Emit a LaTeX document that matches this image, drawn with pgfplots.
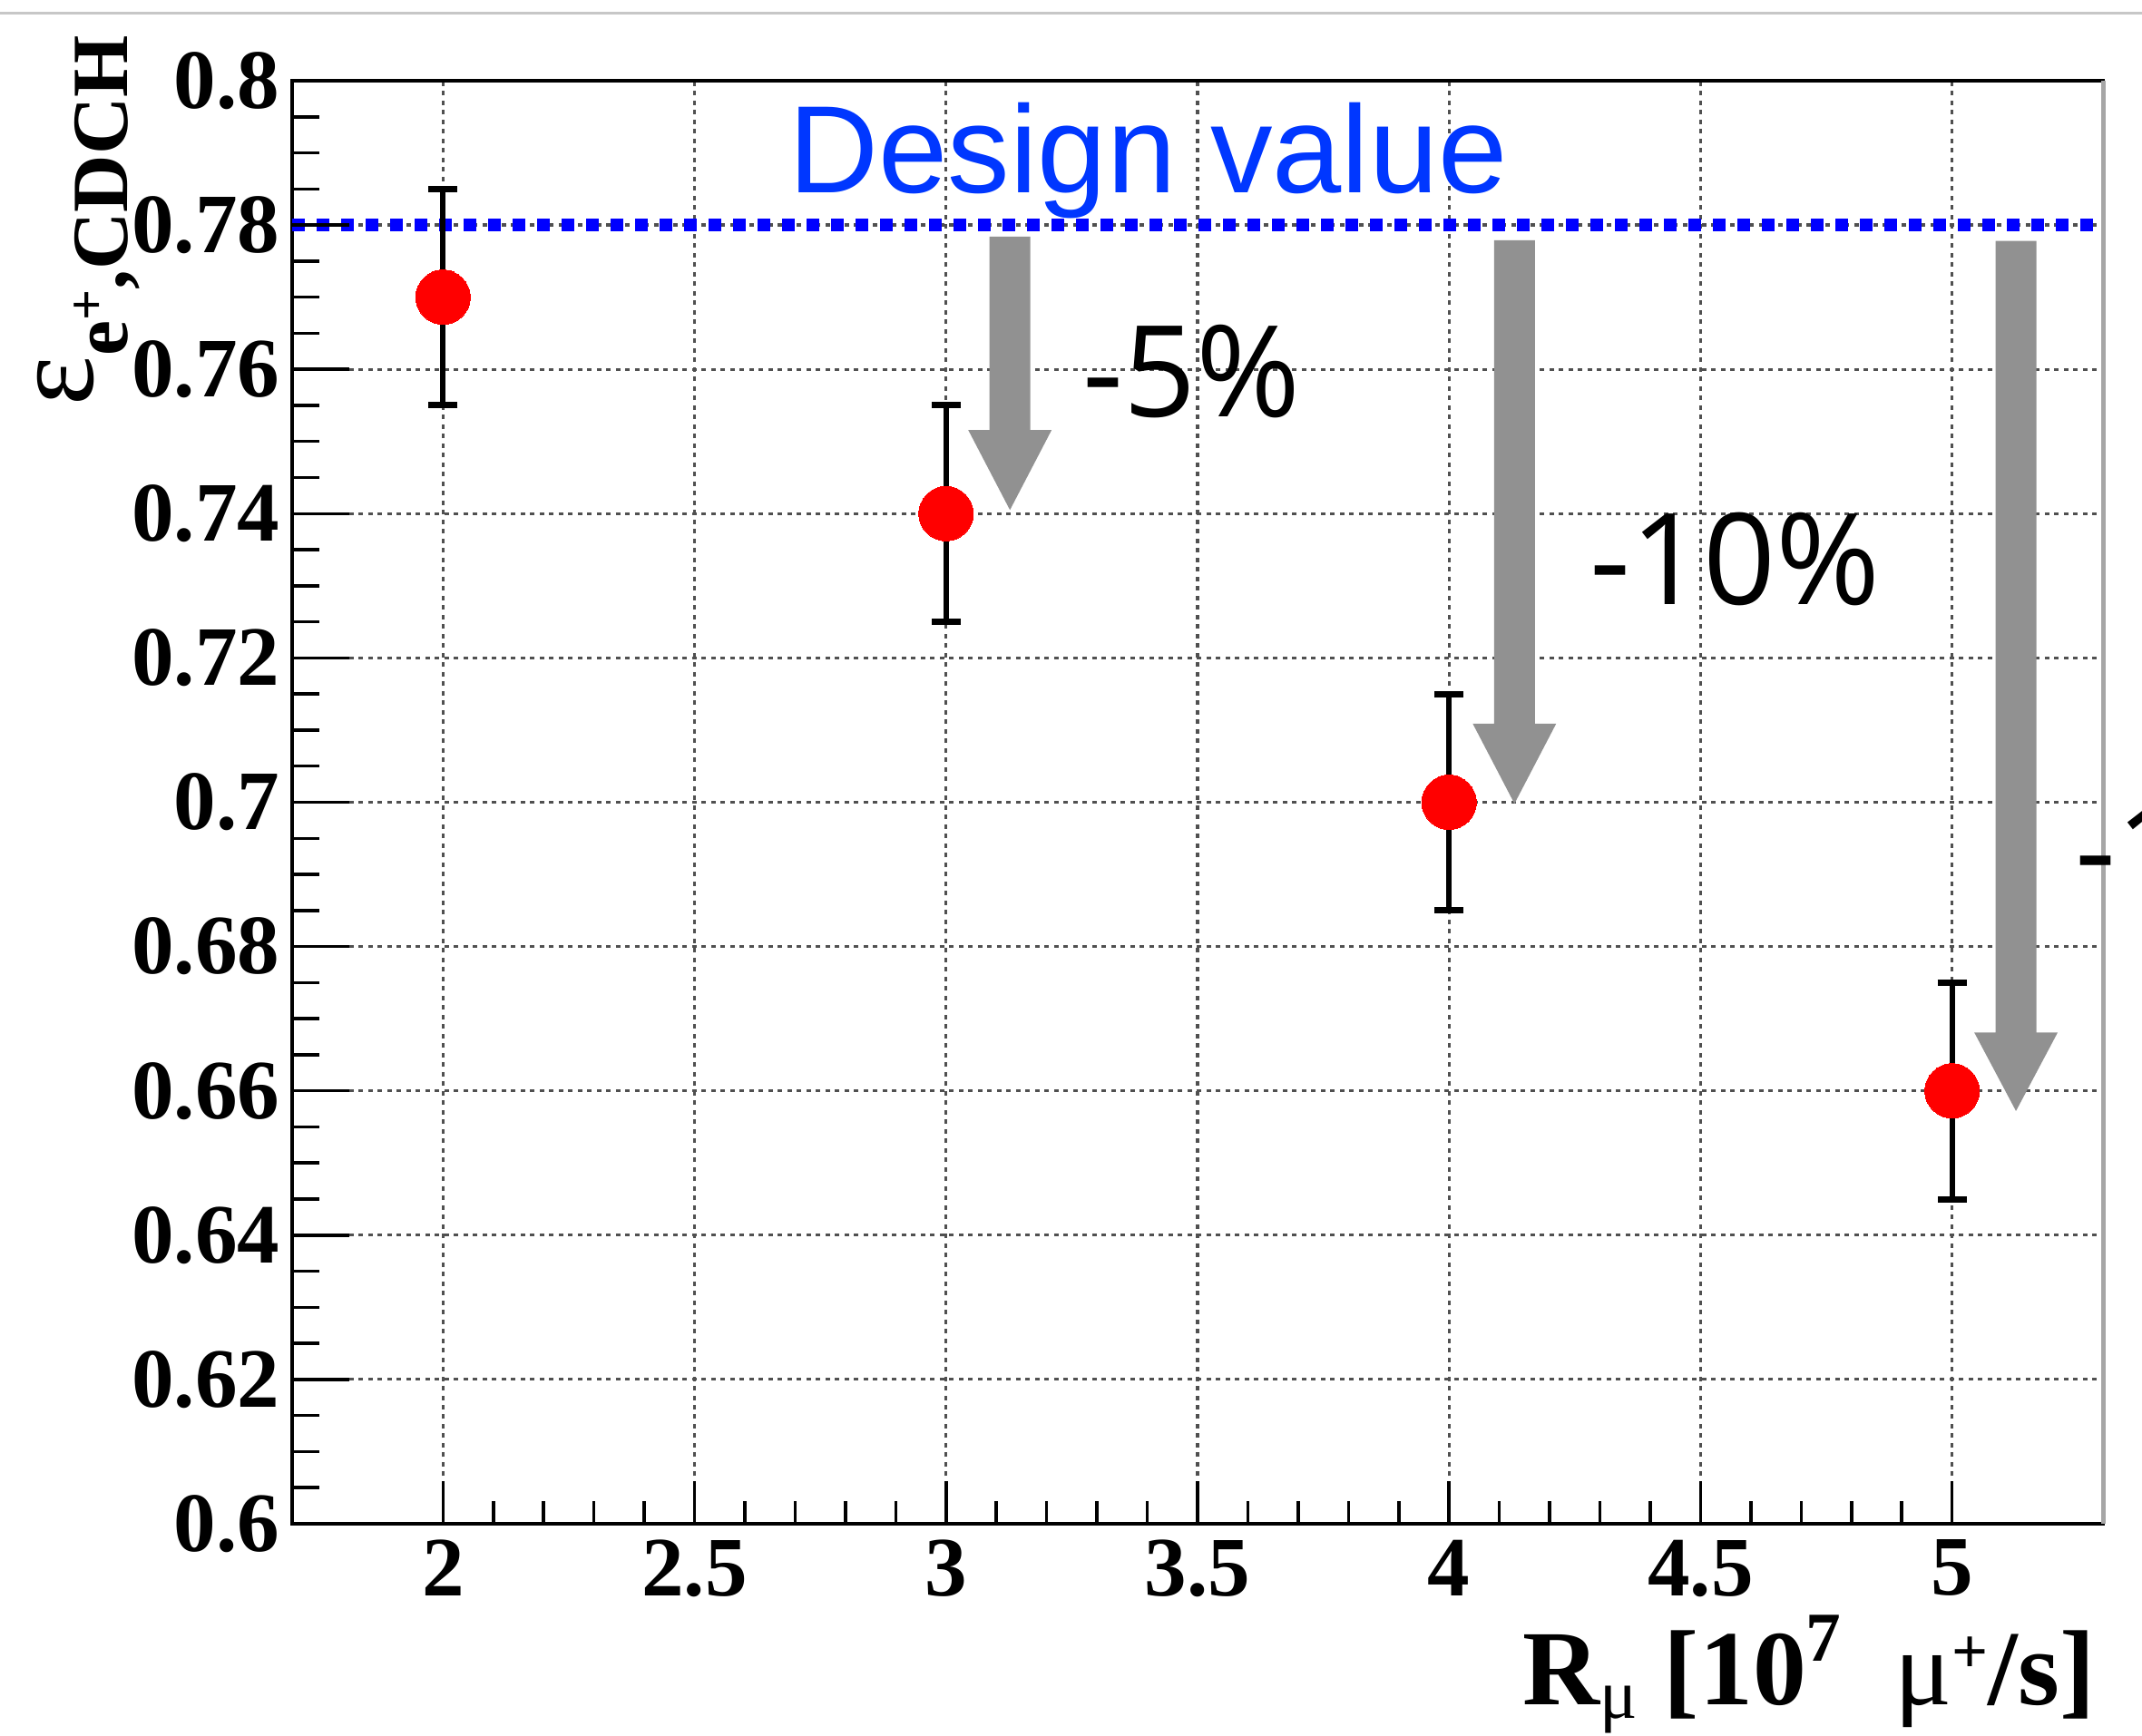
\documentclass[border=0pt]{standalone}
\usepackage{fontspec}
\setmainfont{Liberation Serif}
\newfontfamily\helv{Liberation Sans}
\newfontfamily\opensans{Open Sans}
\usepackage{pgfplots}
\pgfplotsset{compat=1.18}
\definecolor{designblue}{RGB}{0,55,255}
\definecolor{dotblue}{RGB}{0,0,255}
\definecolor{arrowgray}{RGB}{145,145,145}
\definecolor{gridgray}{RGB}{80,80,80}

\begin{document}
\begin{tikzpicture}
\useasboundingbox (0,0) rectangle (23.61cm,19.14cm);
\clip (0,0) rectangle (23.61cm,19.14cm);
% thin separator line at the top of the page
\draw[line width=0.03cm, color=black!22] (0,18.995cm) -- (23.61cm,18.995cm);

\begin{axis}[
  at={(3.22cm,2.34cm)}, anchor=south west,
  scale only axis, width=19.96cm, height=15.91cm,
  xmin=1.7, xmax=5.3, ymin=0.6, ymax=0.8,
  xtick={2,2.5,3,3.5,4,4.5,5},
  xticklabels={2,2.5,3,3.5,4,4.5,5},
  minor x tick num=4,
  ytick={0.6,0.62,0.64,0.66,0.68,0.7,0.72,0.74,0.76,0.78,0.8},
  yticklabels={0.6,0.62,0.64,0.66,0.68,0.7,0.72,0.74,0.76,0.78,0.8},
  tick pos=left,
  major tick length=0.47cm, minor tick length=0.25cm,
  tick style={black, line width=0.035cm},
  ytick style={draw=none},
  grid=major,
  major grid style={gridgray, line width=0.032cm, dash pattern=on 0.05cm off 0.055cm},
  axis line style={line width=0.045cm},
  ticklabel style={font=\fontsize{26.5}{30}\selectfont\bfseries, inner sep=0pt},
  xticklabel style={anchor=north, yshift=-0.17cm},
  yticklabel style={anchor=east, xshift=-0.13cm},
  /pgf/number format/assume math mode=true,
]
% design value
\addplot[dotblue, line width=0.14cm, dash pattern=on 0.14cm off 0.13cm]
  coordinates {(1.7,0.78) (5.3,0.78)};

% drops with respect to the design value
\fill[arrowgray] (axis cs:3.0864,0.7784) -- (axis cs:3.1676,0.7784) -- (axis cs:3.1676,0.7516)
  -- (axis cs:3.210,0.7516) -- (axis cs:3.127,0.7405) -- (axis cs:3.044,0.7516)
  -- (axis cs:3.0864,0.7516) -- cycle;
\fill[arrowgray] (axis cs:4.0894,0.7779) -- (axis cs:4.1706,0.7779) -- (axis cs:4.1706,0.7109)
  -- (axis cs:4.213,0.7109) -- (axis cs:4.130,0.6998) -- (axis cs:4.047,0.7109)
  -- (axis cs:4.0894,0.7109) -- cycle;
\fill[arrowgray] (axis cs:5.0864,0.7778) -- (axis cs:5.1676,0.7778) -- (axis cs:5.1676,0.6681)
  -- (axis cs:5.210,0.6681) -- (axis cs:5.127,0.6572) -- (axis cs:5.044,0.6681)
  -- (axis cs:5.0864,0.6681) -- cycle;

% measured efficiency
\addplot[only marks, mark=*, mark size=0.3cm,
  mark options={fill=red, draw=red, line width=0pt},
  error bars/.cd, y dir=both, y explicit,
  error bar style={line width=0.06cm, black},
  error mark options={rotate=90, mark size=0.16cm, line width=0.07cm, black}]
  coordinates {
  (2,0.77) +- (0,0.015)
  (3,0.74) +- (0,0.015)
  (4,0.70) +- (0,0.015)
  (5,0.66) +- (0,0.015)
};
\end{axis}

% y tick marks (longer than the x ones)
\begin{axis}[
  at={(3.22cm,2.34cm)}, anchor=south west,
  scale only axis, width=19.96cm, height=15.91cm,
  xmin=1.7, xmax=5.3, ymin=0.6, ymax=0.8,
  axis line style={draw=none},
  xtick=\empty,
  ytick={0.6,0.62,0.64,0.66,0.68,0.7,0.72,0.74,0.76,0.78,0.8},
  yticklabel=\empty,
  minor y tick num=3,
  tick pos=left,
  major tick length=0.63cm, minor tick length=0.3cm,
  tick style={black, line width=0.035cm},
]
\end{axis}

\draw[black!35, line width=0.05cm] (23.18cm,2.34cm) -- (23.18cm,18.25cm);

% axis titles
\node[rotate=90, anchor=base west, inner sep=0pt] at (1.02cm,14.66cm)
  {\fontsize{37}{40}\selectfont ε\raisebox{-0.38cm}{\bfseries\fontsize{25}{28}\selectfont e\raisebox{0.25cm}{\fontsize{17}{18}\selectfont +},CDCH}};
\node[anchor=base east, inner sep=0pt] at (23.10cm,0.34cm)
  {\bfseries\fontsize{33.5}{36}\selectfont R\raisebox{-0.15cm}{\mdseries\fontsize{22}{24}\selectfont μ}\hspace{0.25em}[10\raisebox{0.48cm}{\fontsize{22}{24}\selectfont 7}\hspace{0.5em}{\mdseries μ}\raisebox{0.35cm}{\fontsize{20}{22}\selectfont +}/s]};

% annotations
\node[anchor=base west, inner sep=0pt, text=designblue] at (8.69cm,17.01cm)
  {\helv\fontsize{39}{42}\selectfont Design value};
\node[anchor=base west, inner sep=0pt] at (11.93cm,14.54cm)
  {\opensans\fontsize{39.8}{42}\selectfont -5\%};
\node[anchor=base west, inner sep=0pt] at (17.52cm,12.47cm)
  {\opensans\fontsize{39.8}{42}\selectfont -10\%};
\node[anchor=base west, inner sep=0pt] at (22.87cm,9.27cm)
  {\opensans\fontsize{39.8}{42}\selectfont -15\%};
\end{tikzpicture}
\end{document}
